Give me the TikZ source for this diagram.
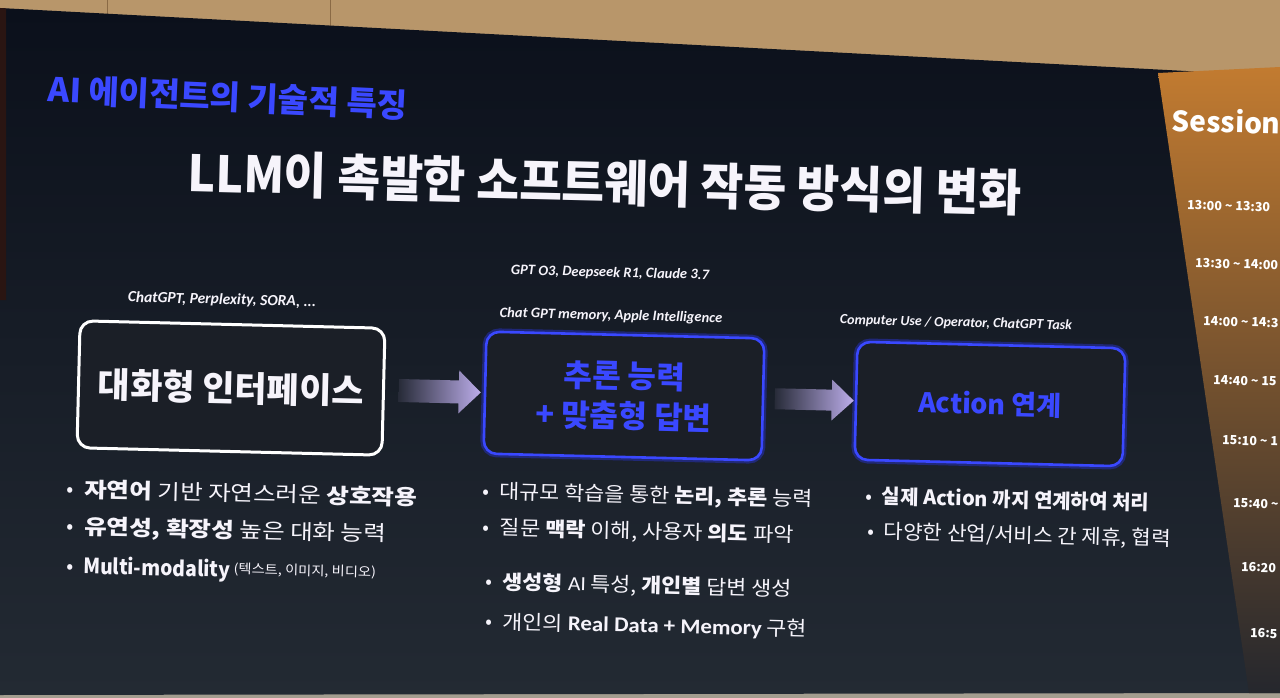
\documentclass[tikz,border=0pt]{standalone}
\usepackage{fontspec}
\usepackage{graphicx}
\setmainfont{Noto Sans CJK KR}
\newfontfamily\lat{Carlito}
\usetikzlibrary{calc}
\newcommand{\hstr}[2]{\scalebox{#1}[1]{#2}}
\definecolor{wood}{HTML}{B8966A}
\definecolor{woodd}{HTML}{8A6A45}
\definecolor{floorc}{HTML}{A39D8F}
\definecolor{slidetop}{HTML}{0B101B}
\definecolor{slidemid}{HTML}{1B212B}
\definecolor{slidebot}{HTML}{232A33}
\definecolor{neon}{HTML}{3A48FF}
\definecolor{neonglow}{HTML}{2630B8}
\definecolor{boxfill}{HTML}{1B1F27}
\definecolor{lav}{HTML}{BCADEA}
\definecolor{arrowdark}{HTML}{272B38}
\definecolor{txt}{HTML}{F6F4FB}
\definecolor{orng}{HTML}{C27B30}
\definecolor{brwn}{HTML}{6E4426}
\definecolor{pdark}{HTML}{25272D}
\definecolor{edge}{HTML}{2A1512}
\begin{document}
\begin{tikzpicture}[x=1pt,y=-1pt,
  tilt/.style={rotate=-1.4},
  lbl/.style={font=\lat\bfseries\itshape\fontsize{14.5}{16}\selectfont, text=txt, tilt, inner sep=0},
  blt/.style={anchor=west, font=\fontsize{20}{24}\selectfont, text=txt, tilt, inner sep=0},
  whitebox/.style={draw=white, line width=3pt, fill=boxfill, rounded corners=13pt, tilt},
  bluebox/.style={draw=neon, line width=2.6pt, fill=boxfill, rounded corners=13pt, tilt,
     preaction={draw=neonglow, line width=7pt, draw opacity=0.55}},
  sess/.style={anchor=west, font=\bfseries\fontsize{12.5}{14}\selectfont, text=white, tilt, inner sep=0},
  blockarrow/.style={left color=arrowdark, right color=lav}]
\useasboundingbox (0,0) rectangle (1280,698);
% ceiling and floor strip
\fill[wood] (0,0) rectangle (1280,698);
\fill[floorc] (0,692) rectangle (1280,698);
\draw[woodd, line width=1pt] (107,0) -- (107,14) (330,0) -- (330,28);
% slide
\shade[top color=slidetop, middle color=slidemid, bottom color=slidebot]
  (0,8) -- (1280,76) -- (1280,693) -- (0,695) -- cycle;
\fill[edge] (0,8) -- (6,8.4) -- (6,300) -- (0,300) -- cycle;
% session panel
\shade[top color=orng, middle color=brwn, bottom color=pdark]
  (1158,73) -- (1280,67) -- (1280,693) -- (1249,693) -- cycle;
\begin{scope}
\clip (1158,73) -- (1280,67) -- (1280,693) -- (1249,693) -- cycle;
\node[sess, font=\bfseries\fontsize{28}{32}\selectfont] (sessT) at (1172,120) {Session};
\node[sess] (t1) at (1187,205) {13:00 \textasciitilde{} 13:30};
\node[sess] (t2) at (1195,263) {13:30 \textasciitilde{} 14:00};
\node[sess] (t3) at (1203,321) {14:00 \textasciitilde{} 14:3};
\node[sess] (t4) at (1213,380) {14:40 \textasciitilde{} 15};
\node[sess] (t5) at (1222,440) {15:10 \textasciitilde{} 1};
\node[sess] (t6) at (1233,503) {15:40 \textasciitilde{}};
\node[sess] (t7) at (1241,567) {16:20};
\node[sess] (t8) at (1250,633) {16:5};
\end{scope}
% headings
\node[anchor=west, rotate=-2.6, text=neon, font=\bfseries\fontsize{33}{35}\selectfont, inner sep=0] (sub) at (48,89) {AI 에이전트의 기술적 특징};
\node[tilt, text=txt, font=\bfseries\fontsize{50}{54}\selectfont, inner sep=0] (title) at (605,183) {\hstr{0.93}{LLM이 촉발한 소프트웨어 작동 방식의 변화}};
% boxes
\node[whitebox, minimum width=305pt, minimum height=127pt, text=txt, font=\bfseries\fontsize{35}{38}\selectfont] (b1) at (231,388) {대화형 인터페이스};
\node[bluebox, minimum width=278pt, minimum height=122pt, text=neon, align=center, font=\bfseries\fontsize{31}{40}\selectfont] (b2) at (624,396) {추론 능력\\+ 맞춤형 답변};
\node[bluebox, minimum width=268pt, minimum height=118pt, text=neon, font=\bfseries\fontsize{27}{30}\selectfont] (b3) at (990,404) {Action 연계};
% labels above boxes
\node[lbl, font=\lat\bfseries\itshape\fontsize{15.5}{17}\selectfont] (l1) at (222,300) {ChatGPT, Perplexity, SORA, ...};
\node[lbl] (l2) at (610,273) {GPT O3, Deepseek R1, Claude 3.7};
\node[lbl] (l3) at (611,316) {Chat GPT memory, Apple Intelligence};
\node[lbl, font=\lat\bfseries\itshape\fontsize{14}{16}\selectfont] (l4) at (956,323) {Computer Use / Operator, ChatGPT Task};
% block arrows
\begin{scope}[shift={(b2.west)}, rotate=-1.4]
  \shade[blockarrow] (-85,-11.5) -- (-25,-11.5) -- (-25,-21.5) -- (-3,0) -- (-25,21.5) -- (-25,11.5) -- (-85,11.5) -- cycle;
\end{scope}
\begin{scope}[shift={(b3.west)}, rotate=-1.4]
  \shade[blockarrow] (-80,-10.5) -- (-23,-10.5) -- (-23,-20.5) -- (-1,0) -- (-23,20.5) -- (-23,10.5) -- (-80,10.5) -- cycle;
\end{scope}
% column 1 bullets
\node[blt, font=\fontsize{21}{24}\selectfont] (c1a) at (66,489) {•\hspace{11pt}\hstr{1.17}{{\bfseries 자연어} 기반 자연스러운 {\bfseries 상호작용}}};
\node[blt, font=\fontsize{21}{24}\selectfont] (c1b) at (66,527) {•\hspace{11pt}\hstr{1.17}{{\bfseries 유연성, 확장성} 높은 대화 능력}};
\node[blt, font=\fontsize{21}{24}\selectfont] (c1c) at (66,567) {•\hspace{10pt}\hstr{0.92}{\bfseries Multi-modality}\,\raisebox{4pt}{\hstr{1.1}{\fontsize{13}{14}\selectfont(텍스트, 이미지, 비디오)}}};
% column 2 bullets
\node[blt] (c2a) at (482,492) {•\hspace{11pt}\hstr{1.09}{대규모 학습을 통한 {\bfseries 논리, 추론} 능력}};
\node[blt] (c2b) at (482,528) {•\hspace{11pt}\hstr{1.1}{질문 {\bfseries 맥락} 이해, 사용자 {\bfseries 의도} 파악}};
\node[blt] (c2c) at (485,582) {•\hspace{11pt}\hstr{1.09}{{\bfseries 생성형} {\lat AI} 특성, {\bfseries 개인별} 답변 생성}};
\node[blt] (c2d) at (485,622) {•\hspace{11pt}\hstr{1.09}{개인의 {\lat\bfseries\fontsize{21}{24}\selectfont Real Data + Memory} 구현}};
% column 3 bullets
\node[blt] (c3a) at (865,496) {•\hspace{10pt}\hstr{1.0}{\bfseries 실제 Action 까지 연계하여 처리}};
\node[blt] (c3b) at (867,532) {•\hspace{10pt}\hstr{1.06}{다양한 산업/서비스 간 제휴, 협력}};
\end{tikzpicture}
\end{document}
